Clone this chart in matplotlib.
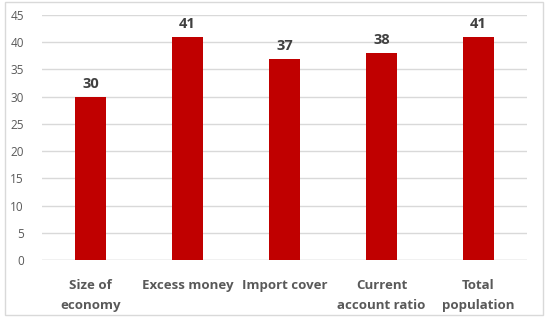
import matplotlib
matplotlib.use("Agg")
import matplotlib.pyplot as plt
from matplotlib.patches import Rectangle

categories = ["Size of\neconomy", "Excess money", "Import cover", "Current\naccount ratio", "Total\npopulation"]
values = [30, 41, 37, 38, 41]
yticks = [0, 5, 10, 15, 20, 25, 30, 35, 40, 45]

plt.rcParams["font.family"] = ["Open Sans", "DejaVu Sans"]

fig = plt.figure(figsize=(5.49, 3.2), dpi=100)
ax = fig.add_axes([0.0765, 0.1875, 0.8835, 0.7655])

x = range(len(categories))
ax.bar(x, values, width=0.31, color="#C00000", zorder=3)
for xi, v in zip(x, values):
    ax.text(xi, v + 1.1, str(v), ha="center", va="bottom", fontsize=10.5,
            fontweight="bold", color="#404040")

ax.set_xlim(-0.5, len(categories) - 0.5)
ax.set_ylim(0, 45)
ax.set_yticks(yticks)
ax.set_yticklabels([str(t) for t in yticks], fontsize=8.5, color="#595959")
ax.set_xticks(list(x))
ax.set_xticklabels(categories, fontsize=9.5, fontweight="bold", color="#595959",
                   linespacing=1.65)
ax.tick_params(axis="both", length=0)
ax.tick_params(axis="x", pad=14)
ax.tick_params(axis="y", pad=13)
ax.grid(axis="y", color="#D9D9D9", linewidth=1, zorder=0)
for s in ax.spines.values():
    s.set_visible(False)
ax.axhline(0, color="#D9D9D9", linewidth=1, zorder=1)

fig.patches.append(Rectangle((0.009, 0.015), 0.98, 0.98, transform=fig.transFigure,
                             fill=False, edgecolor="#D9D9D9", linewidth=1))

fig.savefig("out.png", dpi=100)
